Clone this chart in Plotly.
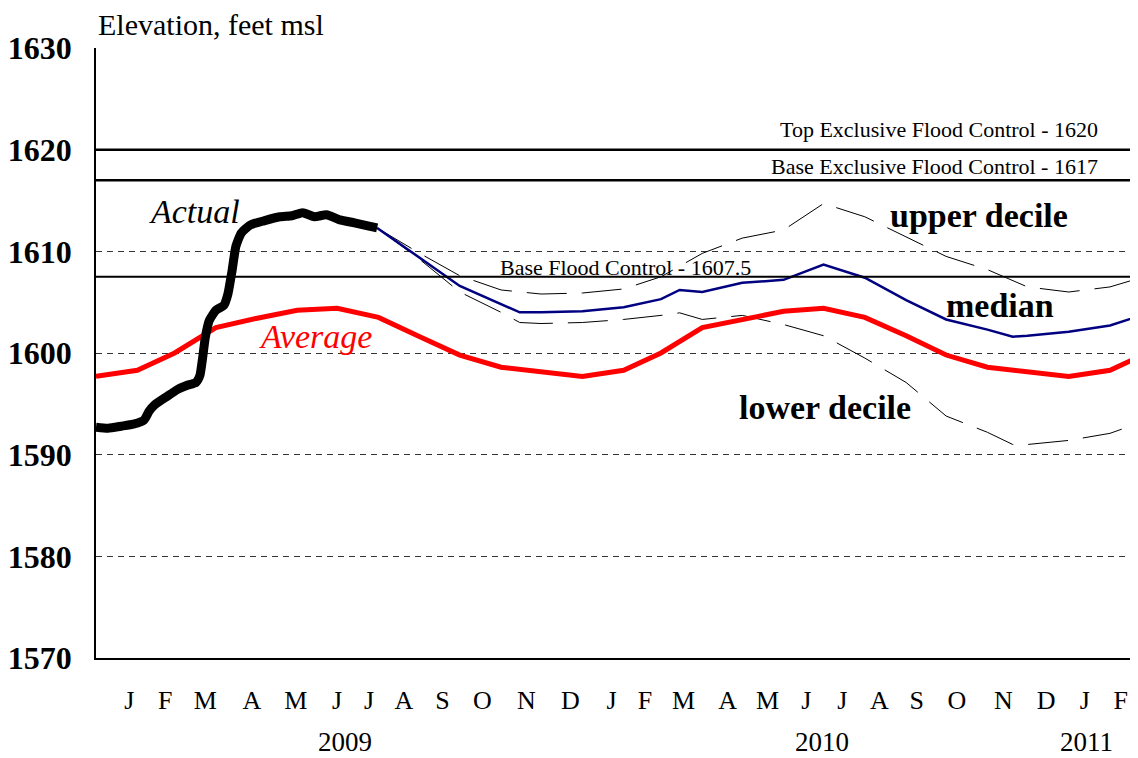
import plotly.graph_objects as go

# ── Data ──────────────────────────────────────────────────────────────────────

actual_dates = [
    "2009-01-01", "2009-01-10", "2009-01-20", "2009-01-29", "2009-02-06", "2009-02-10",
    "2009-02-14", "2009-02-23", "2009-03-03", "2009-03-10", "2009-03-17", "2009-03-20",
    "2009-03-22", "2009-03-24", "2009-03-27", "2009-04-01", "2009-04-07", "2009-04-10",
    "2009-04-13", "2009-04-16", "2009-04-20", "2009-04-27", "2009-05-07", "2009-05-19",
    "2009-05-28", "2009-06-05", "2009-06-14", "2009-06-23", "2009-07-03", "2009-07-14",
    "2009-07-24", "2009-07-31",
]
actual_elev = [
    1592.7, 1592.6, 1592.8, 1593.0, 1593.4, 1594.3,
    1594.9, 1595.7, 1596.4, 1596.8, 1597.1, 1597.8,
    1599.5, 1601.5, 1603.2, 1604.2, 1604.7, 1605.8,
    1608.0, 1610.5, 1611.8, 1612.6, 1613.0, 1613.4,
    1613.5, 1613.8, 1613.4, 1613.6, 1613.1, 1612.8,
    1612.5, 1612.3,
]

average_dates = [
    "2009-01-01", "2009-02-01", "2009-03-01", "2009-04-01", "2009-05-01", "2009-06-01",
    "2009-07-01", "2009-08-01", "2009-09-01", "2009-10-01", "2009-11-01", "2009-12-01",
    "2010-01-01", "2010-02-01", "2010-03-01", "2010-04-01", "2010-05-01", "2010-06-01",
    "2010-07-01", "2010-08-01", "2010-09-01", "2010-10-01", "2010-11-01", "2010-12-01",
    "2011-01-01", "2011-02-01", "2011-03-01",
]
average_elev = [
    1597.7, 1598.3, 1600.0, 1602.5, 1603.4, 1604.2,
    1604.4, 1603.5, 1601.6, 1599.8, 1598.6, 1598.1,
    1597.7, 1598.3, 1600.0, 1602.5, 1603.3, 1604.1,
    1604.4, 1603.5, 1601.7, 1599.8, 1598.6, 1598.1,
    1597.7, 1598.3, 1600.0,
]

median_dates = [
    "2009-07-31", "2009-09-01", "2009-10-01", "2009-11-15", "2009-12-01", "2010-01-01",
    "2010-02-01", "2010-03-01", "2010-03-15", "2010-04-01", "2010-05-01", "2010-06-01",
    "2010-07-01", "2010-08-01", "2010-09-01", "2010-10-01", "2010-11-01", "2010-11-20",
    "2010-12-01", "2011-01-01", "2011-02-01", "2011-03-01",
]
median_elev = [
    1612.3, 1609.4, 1606.6, 1604.0, 1604.0, 1604.1,
    1604.5, 1605.3, 1606.2, 1606.0, 1606.9, 1607.2,
    1608.7, 1607.4, 1605.2, 1603.3, 1602.3, 1601.6,
    1601.7, 1602.1, 1602.7, 1603.9,
]

upper_dates = [
    "2009-07-31", "2009-09-01", "2009-10-01", "2009-11-01", "2009-12-01", "2010-01-01",
    "2010-02-01", "2010-03-01", "2010-04-01", "2010-05-01", "2010-06-01", "2010-07-01",
    "2010-08-01", "2010-09-01", "2010-10-01", "2010-11-01", "2010-11-15", "2010-12-01",
    "2011-01-01", "2011-02-01", "2011-03-01",
]
upper_elev = [
    1612.3, 1609.8, 1607.6, 1606.2, 1605.8, 1605.9,
    1606.3, 1607.5, 1609.8, 1611.3, 1612.1, 1614.7,
    1613.4, 1611.4, 1609.5, 1608.2, 1607.4, 1606.5,
    1606.0, 1606.5, 1607.6,
]

lower_dates = [
    "2009-07-31", "2009-09-01", "2009-10-01", "2009-11-01", "2009-11-15", "2009-12-01",
    "2010-01-01", "2010-02-01", "2010-03-01", "2010-03-15", "2010-04-01", "2010-05-01",
    "2010-06-01", "2010-07-01", "2010-08-01", "2010-09-01", "2010-10-01", "2010-11-01",
    "2010-11-20", "2010-12-01", "2011-01-01", "2011-02-01", "2011-03-01",
]
lower_elev = [
    1612.3, 1609.2, 1606.0, 1604.0, 1603.0, 1602.9,
    1603.0, 1603.3, 1603.7, 1603.95, 1603.3, 1603.7,
    1602.8, 1601.7, 1599.5, 1597.1, 1593.8, 1592.2,
    1591.0, 1591.0, 1591.4, 1592.1, 1593.4,
]

control_levels = [1620, 1617, 1607.5]
control_labels = ["Top Exclusive Flood Control - 1620", "Base Exclusive Flood Control - 1617", "Base Flood Control - 1607.5"]

month_labels = ["J", "F", "M", "A", "M", "J", "J", "A", "S", "O", "N", "D",
                "J", "F", "M", "A", "M", "J", "J", "A", "S", "O", "N", "D", "J", "F"]
month_label_dates = [
    "2009-01-26", "2009-02-22", "2009-03-24", "2009-04-28", "2009-05-31", "2009-07-01",
    "2009-07-25", "2009-08-20", "2009-09-18", "2009-10-18", "2009-11-20", "2009-12-23",
    "2010-01-23", "2010-02-17", "2010-03-18", "2010-04-20", "2010-05-20", "2010-06-18",
    "2010-07-15", "2010-08-12", "2010-09-09", "2010-10-09", "2010-11-13", "2010-12-15",
    "2011-01-13", "2011-02-09",
]
year_labels = ["2009", "2010", "2011"]
year_label_dates = ["2009-07-07", "2010-06-30", "2011-01-14"]

# ── Figure ────────────────────────────────────────────────────────────────────

SERIF = "Liberation Serif, Times New Roman, serif"

fig = go.Figure()
fig.add_trace(go.Scatter(x=upper_dates, y=upper_elev, mode="lines", line={"color": "black", "width": 1, "dash": "40px,15px"}))
fig.add_trace(go.Scatter(x=lower_dates, y=lower_elev, mode="lines", line={"color": "black", "width": 1, "dash": "40px,15px"}))
fig.add_trace(go.Scatter(x=average_dates, y=average_elev, mode="lines", line={"color": "#ff0000", "width": 5}))
fig.add_trace(go.Scatter(x=median_dates, y=median_elev, mode="lines", line={"color": "#000080", "width": 2.5}))
fig.add_trace(go.Scatter(x=actual_dates, y=actual_elev, mode="lines", line={"color": "black", "width": 9, "shape": "spline", "smoothing": 0.5}))

for level in control_levels:
    fig.add_shape(type="line", xref="paper", x0=0, x1=1, yref="y", y0=level, y1=level, line={"color": "black", "width": 2.5 if level > 1610 else 2})

label_x = [0.9635, 0.9635, 0.6305]
label_y = [1622.0, 1618.3, 1608.4]
for text, lx, ly in zip(control_labels, label_x, label_y):
    fig.add_annotation(text=text, xref="paper", x=lx, y=ly, xanchor="right", yanchor="middle", showarrow=False, font={"family": SERIF, "size": 22, "color": "black"})

series_notes = [
    ("<i>Actual</i>", 0.095, 1613.9, "black"),
    ("<i>Average</i>", 0.211, 1601.6, "#ff0000"),
    ("<b>upper decile</b>", 0.847, 1613.5, "black"),
    ("<b>median</b>", 0.868, 1604.7, "black"),
    ("<b>lower decile</b>", 0.700, 1594.6, "black"),
]
for text, nx, ny, color in series_notes:
    fig.add_annotation(text=text, xref="paper", x=nx, xanchor="center", y=ny, yanchor="middle", showarrow=False, font={"family": SERIF, "size": 34, "color": color})

for text, date in zip(year_labels, year_label_dates):
    fig.add_annotation(text=text, xref="x", x=date, xanchor="center", yref="paper", y=-0.138, yanchor="middle", showarrow=False, font={"family": SERIF, "size": 27, "color": "black"})

fig.add_annotation(text="Elevation, feet msl", xref="paper", x=0, xanchor="left", yref="paper", y=1.038, yanchor="middle", showarrow=False, font={"family": SERIF, "size": 30, "color": "black"})

fig.update_xaxes(type="date", range=["2009-01-01", "2011-02-22"], tickmode="array", tickvals=month_label_dates, ticktext=month_labels,
                 tickfont={"family": SERIF, "size": 26, "color": "black"}, showgrid=False, showline=True, linecolor="black", linewidth=1.5,
                 ticks="", ticklabelstandoff=18, zeroline=False, automargin=False)
fig.update_yaxes(range=[1570, 1630], dtick=10, tickfont={"family": SERIF, "size": 32, "color": "black"}, tickprefix="<b>", ticksuffix="</b>",
                 showgrid=True, gridcolor="#333333", griddash="6px,5px", gridwidth=1, showline=True, linecolor="black", linewidth=1.5,
                 ticks="", ticklabelstandoff=16, zeroline=False, automargin=False)
# page body keeps an 8px margin, so the figure is sized to end at the window edge
fig.update_layout(width=1130, height=750, margin={"l": 88, "r": 0, "t": 40, "b": 100}, showlegend=False,
                  plot_bgcolor="white", paper_bgcolor="white")
fig.write_html("out.html")
